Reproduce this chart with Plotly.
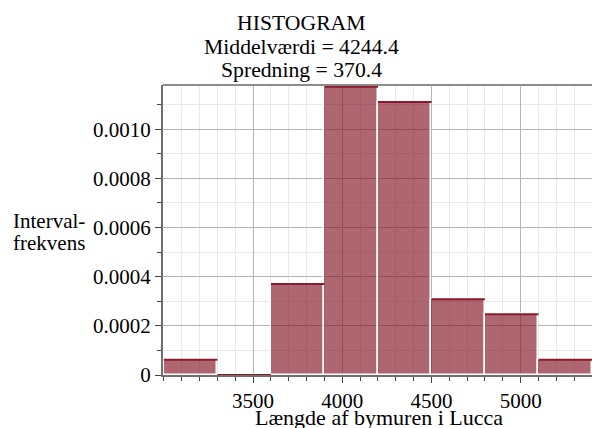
import plotly.graph_objects as go

# Histogram of measured lengths of the city wall in Lucca
bin_edges = [3000, 3300, 3600, 3900, 4200, 4500, 4800, 5100, 5400]
counts = [1, 0, 6, 19, 18, 5, 4, 1]

title_lines = ["HISTOGRAM", "Middelværdi = 4244.4", "Spredning = 370.4"]
x_title = "Længde af bymuren i Lucca"
y_title_lines = ["Interval-", "frekvens"]

x_tick_vals = [3500, 4000, 4500, 5000]
x_tick_text = ["3500", "4000", "4500", "5000"]
y_tick_vals = [0, 0.0002, 0.0004, 0.0006, 0.0008, 0.0010]
y_tick_text = ["0", "0.0002", "0.0004", "0.0006", "0.0008", "0.0010"]

# density scaling: area of the histogram is 1
n_total = sum(counts)
lefts = bin_edges[:-1]
rights = bin_edges[1:]
widths = [r - l for l, r in zip(lefts, rights)]
centers = [(l + r) / 2 for l, r in zip(lefts, rights)]
density = [c / (n_total * w) for c, w in zip(counts, widths)]

W, H = 592, 428
M_L, M_R, M_T, M_B = 163, 0, 85, 53
PW, PH = W - M_L - M_R, H - M_T - M_B


def px_x(x):
    return (x - M_L) / PW


def px_y(y):
    return (H - M_B - y) / PH


FONT = "Liberation Serif, Times New Roman, serif"
FS = 21

fig = go.Figure()

fig.add_trace(go.Bar(
    x=centers, y=density, width=widths,
    marker=dict(color="rgba(130,20,35,0.65)",
                line=dict(color="white", width=1.5)),
    hoverinfo="skip", showlegend=False,
))

# darker line along the top of each bin
top_x, top_y = [], []
for l, r, d in zip(lefts, rights, density):
    top_x += [l, r, None]
    top_y += [d, d, None]
fig.add_trace(go.Scatter(
    x=top_x, y=top_y, mode="lines",
    line=dict(color="#8b1a2a", width=2),
    hoverinfo="skip", showlegend=False, cliponaxis=False,
))

annotations = []
for text, yb in zip(title_lines, [23.5, 47.0, 70.0]):
    annotations.append(dict(text=text, x=px_x(301), y=px_y(yb),
                            xref="paper", yref="paper",
                            xanchor="center", yanchor="middle",
                            showarrow=False,
                            font=dict(family=FONT, size=21.7, color="black")))
for text, yb in zip(y_title_lines, [220.7, 243.0]):
    annotations.append(dict(text=text, x=px_x(11), y=px_y(yb),
                            xref="paper", yref="paper",
                            xanchor="left", yanchor="middle",
                            showarrow=False,
                            font=dict(family=FONT, size=FS, color="black")))
annotations.append(dict(text=x_title, x=px_x(379), y=px_y(417),
                        xref="paper", yref="paper",
                        xanchor="center", yanchor="middle",
                        showarrow=False,
                        font=dict(family=FONT, size=22, color="black")))

fig.update_layout(
    width=W, height=H,
    margin=dict(l=M_L, r=M_R, t=M_T, b=M_B, pad=0),
    paper_bgcolor="white", plot_bgcolor="white",
    bargap=0,
    annotations=annotations,
    shapes=[dict(type="line", xref="paper", yref="paper",
                 x0=0, x1=1, y0=1, y1=1,
                 line=dict(color="#8c8c8c", width=2))],
    font=dict(family=FONT, size=FS, color="black"),
)

fig.update_xaxes(
    range=[2995, 5400],
    tickmode="array", tickvals=x_tick_vals, ticktext=x_tick_text,
    ticks="outside", ticklen=6, tickwidth=1, tickcolor="#444",
    showline=True, linecolor="#6e6e6e", linewidth=2,
    showgrid=True, gridcolor="#b4b4b4", gridwidth=1,
    zeroline=False,
    tickfont=dict(family=FONT, size=FS, color="black"),
    minor=dict(dtick=100, tick0=0, ticks="outside", ticklen=4,
               tickcolor="#444", showgrid=True, gridcolor="#e8e8e8",
               gridwidth=1),
)
fig.update_yaxes(
    range=[0, 0.00118],
    tickmode="array", tickvals=y_tick_vals, ticktext=y_tick_text,
    ticks="outside", ticklen=6, tickwidth=1, tickcolor="#444",
    showline=True, linecolor="#6e6e6e", linewidth=2,
    showgrid=True, gridcolor="#b4b4b4", gridwidth=1,
    zeroline=False,
    tickfont=dict(family=FONT, size=FS, color="black"),
    minor=dict(dtick=0.0001, tick0=0, ticks="outside", ticklen=4,
               tickcolor="#444", showgrid=True, gridcolor="#e8e8e8",
               gridwidth=1),
)

fig.write_html("out.html")
